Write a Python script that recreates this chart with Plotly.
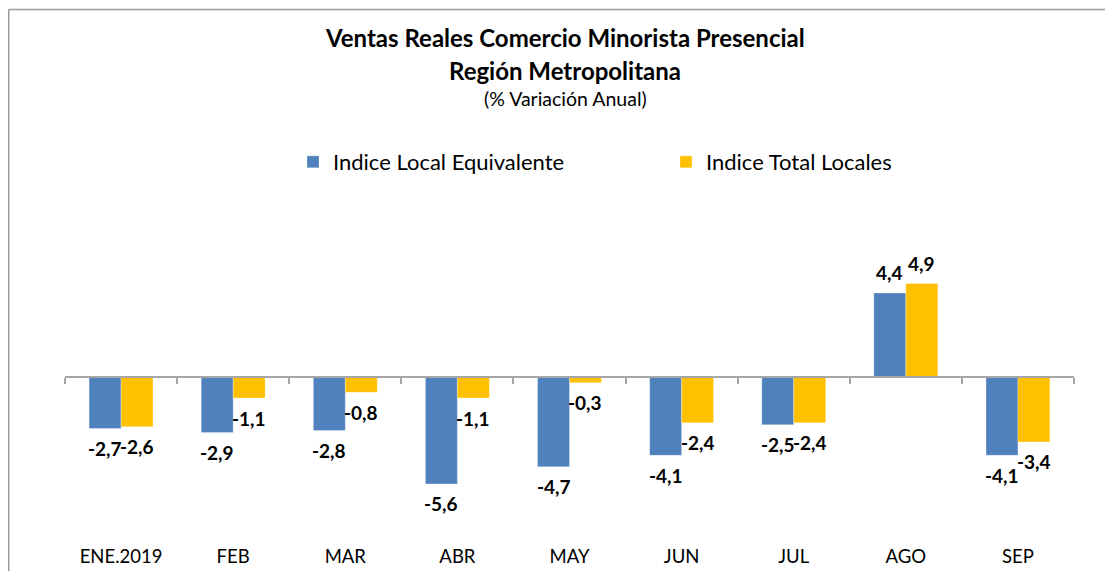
import plotly.graph_objects as go

categories = ["ENE.2019", "FEB", "MAR", "ABR", "MAY", "JUN", "JUL", "AGO", "SEP"]
local_equiv = [-2.7, -2.9, -2.8, -5.6, -4.7, -4.1, -2.5, 4.4, -4.1]
total_locales = [-2.6, -1.1, -0.8, -1.1, -0.3, -2.4, -2.4, 4.9, -3.4]
series_names = ["Indice Local Equivalente", "Indice Total Locales"]
title_lines = ["Ventas Reales Comercio Minorista Presencial", "Región Metropolitana", "(% Variación Anual)"]

BLUE = "#4F81BD"
GOLD = "#FFC000"
FONT = "Lato"

OFF = 8  # page body margin: figure origin sits at screen (8, 8)
W, H = 1113 - 2 * OFF, 579 - 2 * OFF  # fits inside the window, no scrollbars
PLOT_LEFT, PLOT_RIGHT, PLOT_TOP, PLOT_BOTTOM = 65 - OFF, 1074 - OFF, 190 - OFF, 543 - OFF
L, R, T, B = PLOT_LEFT, W - PLOT_RIGHT, PLOT_TOP, H - PLOT_BOTTOM
ZERO_PX = 377 - OFF
PX_PER_UNIT = 19.1
BARGAP = 0.43
LABEL_GAP = 20
plot_w = W - L - R
plot_h = H - T - B
ymax = (ZERO_PX - T) / PX_PER_UNIT
ymin = -(H - B - ZERO_PX) / PX_PER_UNIT
zero_frac = (0 - ymin) / (ymax - ymin)
bar_px = plot_w / len(categories) * (1 - BARGAP) / 2


def fmt(v):
    return f"{v:.1f}".replace(".", ",")


def px_x(p):  # screen pixel -> paper fraction
    return (p - OFF - L) / plot_w


def px_y(p):
    return (H - B - (p - OFF)) / plot_h


fig = go.Figure()
series = [(series_names[0], local_equiv, BLUE, -1), (series_names[1], total_locales, GOLD, 1)]
for name, vals, col, side in series:
    fig.add_trace(go.Bar(
        x=categories, y=vals, name=name,
        marker=dict(color=col, line=dict(color="rgba(255,255,255,0.6)", width=0.5)),
        hovertemplate="%{x}: %{y}<extra>" + name + "</extra>",
    ))
    for c, v in zip(categories, vals):
        fig.add_annotation(x=c, y=v, xref="x", yref="y", text=fmt(v), showarrow=False,
                           xshift=side * bar_px / 2, yshift=LABEL_GAP if v >= 0 else -LABEL_GAP,
                           xanchor="center", yanchor="middle",
                           font=dict(family=FONT, size=19, color="black", weight="bold"))

# invisible trace establishing the secondary linear x axis used for the zero line tick marks
fig.add_trace(go.Scatter(x=[-0.5, len(categories) - 0.5], y=[0, 0], xaxis="x2", mode="lines",
                         line=dict(color="rgba(0,0,0,0)"), showlegend=False, hoverinfo="skip"))

fig.update_layout(
    width=W, height=H,
    margin=dict(l=L, r=R, t=T, b=B, autoexpand=False),
    plot_bgcolor="white", paper_bgcolor="white",
    barmode="group", bargap=BARGAP, bargroupgap=0,
    font=dict(family=FONT, color="black"),
    showlegend=True,
    legend=dict(orientation="h", x=px_x(293), xanchor="left", y=px_y(162), yanchor="middle",
                font=dict(family=FONT, size=22, color="black"),
                entrywidth=328, entrywidthmode="pixels", traceorder="normal", itemwidth=30),
    xaxis=dict(type="category", showline=False, ticks="", showgrid=False, zeroline=False,
               tickfont=dict(family=FONT, size=18.5, color="black"), range=[-0.5, len(categories) - 0.5]),
    xaxis2=dict(overlaying="x", anchor="free", position=zero_frac, range=[-0.5, len(categories) - 0.5],
                showline=True, linecolor="#A6A6A6", linewidth=1.5,
                tickmode="array", tickvals=[i - 0.5 for i in range(len(categories) + 1)],
                ticks="outside", ticklen=6, tickcolor="#A6A6A6", tickwidth=1.5,
                showticklabels=False, showgrid=False, zeroline=False),
    yaxis=dict(range=[ymin, ymax], visible=False, showgrid=False, zeroline=False),
)

cx = px_x(565)
ys = [38, 70, 98]
sizes = [24, 24, 19.5]
bolds = ["bold", "bold", "normal"]
for txt, ypx, sz, wt in zip(title_lines, ys, sizes, bolds):
    fig.add_annotation(text=txt, xref="paper", yref="paper", x=cx, y=px_y(ypx),
                       xanchor="center", yanchor="middle", showarrow=False,
                       font=dict(family=FONT, size=sz, color="black", weight=wt))

# chart-area frame: only the left and top edges fall inside the picture
frame = dict(color="#9A9A9A", width=1.5)
fig.add_shape(type="line", xref="paper", yref="paper", layer="below",
              x0=px_x(OFF + 0.75), x1=px_x(OFF + 0.75), y0=px_y(579 + 40), y1=px_y(9.5), line=frame)
fig.add_shape(type="line", xref="paper", yref="paper", layer="below",
              x0=px_x(OFF + 0.75), x1=px_x(1113 + 40), y0=px_y(9.5), y1=px_y(9.5), line=frame)

fig.write_html("out.html")
